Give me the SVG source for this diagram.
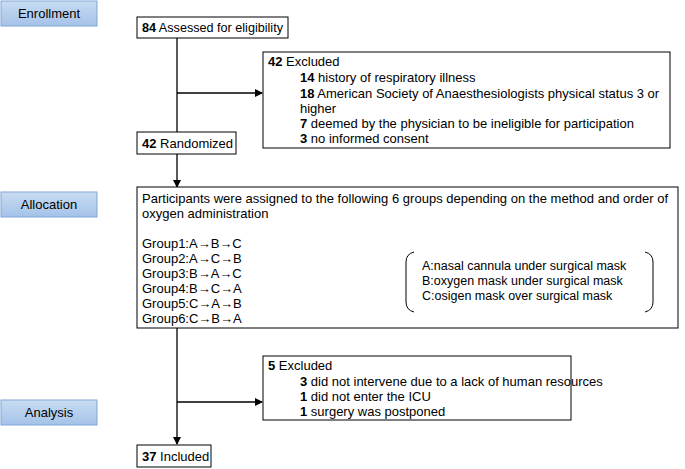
<svg xmlns="http://www.w3.org/2000/svg" width="685" height="469" viewBox="0 0 685 469">
<defs>
<linearGradient id="bg" x1="0" y1="0" x2="0" y2="1"><stop offset="0" stop-color="#c9dcf2"/><stop offset="1" stop-color="#a4c2e8"/></linearGradient>
<marker id="ar" markerWidth="8" markerHeight="8" refX="7" refY="4" orient="auto" markerUnits="userSpaceOnUse"><path d="M0,0 L8,4 L0,8 z" fill="#000"/></marker>
<style>
text{font-family:"Liberation Sans",Arial,sans-serif;font-size:13px;fill:#000}
.s{font-size:12.5px}
.lab{fill:url(#bg);stroke:#7fa7d8;stroke-width:1}
.box{fill:#fff;stroke:#000;stroke-width:1}
.c{stroke:#000;stroke-width:1.3;fill:none}
.b{font-weight:bold}
</style>
</defs>
<g id="enrollment"><rect class="lab" x="1" y="1" width="96" height="25"/><text x="49" y="18" text-anchor="middle">Enrollment</text></g>
<g id="allocation"><rect class="lab" x="1" y="192" width="96" height="25"/><text x="49" y="209" text-anchor="middle">Allocation</text></g>
<g id="analysis"><rect class="lab" x="1" y="400" width="96" height="25"/><text x="49" y="417" text-anchor="middle">Analysis</text></g>
<g id="connectors">
<path class="c" d="M177,38 V132"/>
<path class="c" d="M177,93 H262" marker-end="url(#ar)"/>
<path class="c" d="M177,154 V187" marker-end="url(#ar)"/>
<path class="c" d="M177,328 V444" marker-end="url(#ar)"/>
<path class="c" d="M177,402 H262" marker-end="url(#ar)"/>
</g>
<g id="assessed"><rect class="box" x="137" y="17" width="151" height="21"/><text x="142" y="32" textLength="141" lengthAdjust="spacingAndGlyphs"><tspan class="b">84</tspan> Assessed for eligibility</text></g>
<g id="excluded1"><rect class="box" x="263" y="52" width="407" height="96"/>
<text x="268" y="66"><tspan class="b">42</tspan> Excluded</text>
<text x="300" y="82"><tspan class="b">14</tspan> history of respiratory illness</text>
<text x="300" y="98"><tspan class="b">18</tspan> American Society of Anaesthesiologists physical status 3 or</text>
<text x="300" y="113">higher</text>
<text x="300" y="128"><tspan class="b">7</tspan> deemed by the physician to be ineligible for participation</text>
<text x="300" y="143"><tspan class="b">3</tspan> no informed consent</text></g>
<g id="randomized"><rect class="box" x="137" y="132" width="99" height="22"/><text x="142" y="148"><tspan class="b">42</tspan> Randomized</text></g>
<g id="groups"><rect class="box" x="137" y="187" width="541" height="141"/>
<text x="142" y="203" textLength="526" lengthAdjust="spacing">Participants were assigned to the following 6 groups depending on the method and order of</text>
<text x="142" y="218">oxygen administration</text>
<text x="142" y="248">Group1:A→B→C</text>
<text x="142" y="263">Group2:A→C→B</text>
<text x="142" y="278">Group3:B→A→C</text>
<text x="142" y="293">Group4:B→C→A</text>
<text x="142" y="308">Group5:C→A→B</text>
<text x="142" y="323">Group6:C→B→A</text>
<path class="c" style="stroke-width:1" d="M414,252 Q406,254 406,262 V302 Q406,310 414,312"/>
<path class="c" style="stroke-width:1" d="M645,252 Q653,254 653,262 V302 Q653,310 645,312"/>
<text class="s" x="422" y="270">A:nasal cannula under surgical mask</text>
<text class="s" x="422" y="285">B:oxygen mask under surgical mask</text>
<text class="s" x="422" y="300">C:osigen mask over surgical mask</text></g>
<g id="excluded2"><rect class="box" x="263" y="356" width="308" height="64"/>
<text x="268" y="370"><tspan class="b">5</tspan> Excluded</text>
<text x="300" y="386"><tspan class="b">3</tspan> did not intervene due to a lack of human resources</text>
<text x="300" y="401"><tspan class="b">1</tspan> did not enter the ICU</text>
<text x="300" y="416"><tspan class="b">1</tspan> surgery was postponed</text></g>
<g id="included"><rect class="box" x="137" y="445" width="74" height="22"/><text x="142" y="461"><tspan class="b">37</tspan> Included</text></g>
</svg>
